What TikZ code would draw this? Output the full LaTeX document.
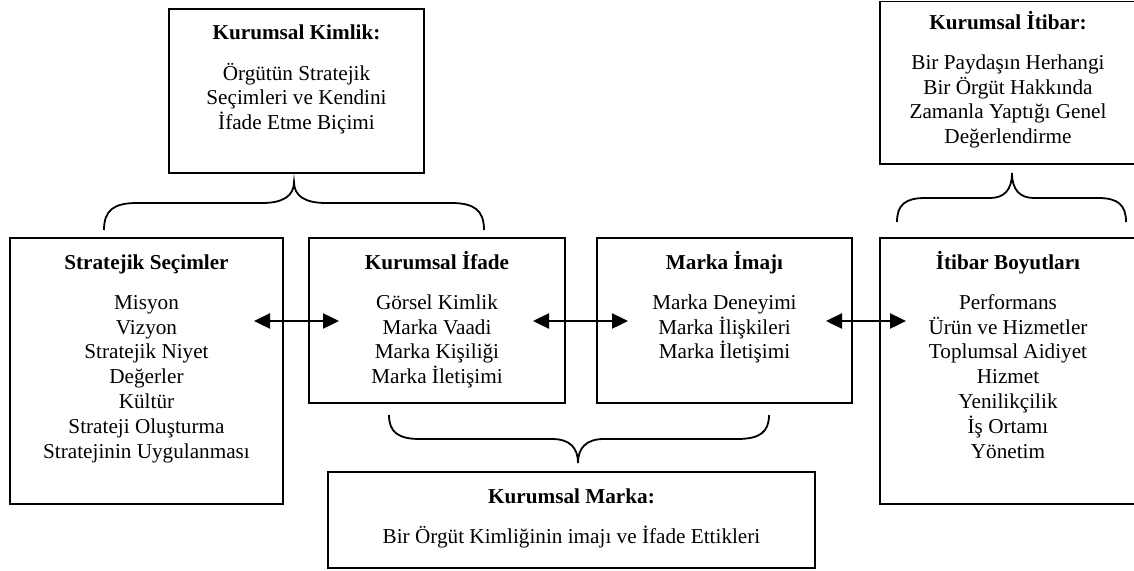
\documentclass[tikz,border=0pt]{standalone}
\usepackage{fontspec}
\setmainfont{Liberation Serif}
\usetikzlibrary{arrows.meta}
\begin{document}
\begin{tikzpicture}[x=1pt,y=-1pt,
  box/.style={draw,line width=1.8pt,inner sep=0pt,outer sep=0pt,rectangle},
  txt/.style={anchor=north,inner sep=0pt,align=center,font=\fontsize{21.2pt}{24.8pt}\selectfont},
  dbl/.style={line width=2.4pt,{Triangle[length=16pt,width=15pt]}-{Triangle[length=16pt,width=15pt]}},
  brace/.style={line width=1.8pt}]
\useasboundingbox (0,0) rectangle (1134,570);
% boxes
\node[box,minimum width=255pt,minimum height=164pt] (kk) at (296.5,91) {};
\node[box,minimum width=256pt,minimum height=162.5pt] (kit) at (1008,82.75) {};
\node[box,minimum width=273pt,minimum height=266pt] (ss) at (146.5,371) {};
\node[box,minimum width=256pt,minimum height=165pt] (ki) at (437,320.5) {};
\node[box,minimum width=255pt,minimum height=165pt] (mi) at (724.5,320.5) {};
\node[box,minimum width=256pt,minimum height=266pt] (ib) at (1008,371) {};
\node[box,minimum width=487pt,minimum height=96pt] (km) at (571.5,520) {};
% texts
\node[txt] (kkt) at (296.5,19) {\rule{0pt}{20pt}\textbf{Kurumsal Kimlik:}\\[16pt]
  Örgütün Stratejik\\Seçimleri ve Kendini\\İfade Etme Biçimi};
\node[txt] (kitt) at (1008,9) {\rule{0pt}{20pt}\textbf{Kurumsal İtibar:}\\[15.2pt]
  Bir Paydaşın Herhangi\\Bir Örgüt Hakkında\\Zamanla Yaptığı Genel\\Değerlendirme};
\node[txt] (sst) at (146.5,249) {\rule{0pt}{20pt}\textbf{Stratejik Seçimler}\\[15.2pt]
  Misyon\\Vizyon\\Stratejik Niyet\\Değerler\\Kültür\\Strateji Oluşturma\\Stratejinin Uygulanması};
\node[txt] (kitx) at (437,249) {\rule{0pt}{20pt}\textbf{Kurumsal İfade}\\[15.2pt]
  Görsel Kimlik\\Marka Vaadi\\Marka Kişiliği\\Marka İletişimi};
\node[txt] (mit) at (724.5,249) {\rule{0pt}{20pt}\textbf{Marka İmajı}\\[15.2pt]
  Marka Deneyimi\\Marka İlişkileri\\Marka İletişimi};
\node[txt] (ibt) at (1008,249) {\rule{0pt}{20pt}\textbf{İtibar Boyutları}\\[15.2pt]
  Performans\\Ürün ve Hizmetler\\Toplumsal Aidiyet\\Hizmet\\Yenilikçilik\\İş Ortamı\\Yönetim};
\node[txt] (kmt) at (571.5,483) {\rule{0pt}{20pt}\textbf{Kurumsal Marka:}\\[15.2pt]
  Bir Örgüt Kimliğinin imajı ve İfade Ettikleri};
% arrows
\draw[dbl] ([shift={(-29,83)}]ss.north east) -- ([shift={(30,83)}]ki.north west);
\draw[dbl] ([shift={(-32,83)}]ki.north east) -- ([shift={(31,83)}]mi.north west);
\draw[dbl] ([shift={(-26,83)}]mi.north east) -- ([shift={(26,83)}]ib.north west);
% braces
\draw[brace] (104,230) .. controls (104,210) and (114,203) .. (137,203) -- (262,203)
  .. controls (283,203) and (294,196) .. (294,182)
  .. controls (294,196) and (305,203) .. (326,203) -- (451,203)
  .. controls (474,203) and (484,210) .. (484,230);
\draw[brace] (897,222) .. controls (897,205) and (905,198) .. (925,198) -- (990,198)
  .. controls (1004,198) and (1012,190) .. (1012,173)
  .. controls (1012,190) and (1020,198) .. (1034,198) -- (1098,198)
  .. controls (1118,198) and (1126,205) .. (1126,222);
\draw[brace] (389,415) .. controls (389,432) and (398,439) .. (420,439) -- (552,439)
  .. controls (570,439) and (578,448) .. (578,463)
  .. controls (578,448) and (586,439) .. (604,439) -- (737,439)
  .. controls (760,439) and (769,432) .. (769,415);
\end{tikzpicture}
\end{document}
